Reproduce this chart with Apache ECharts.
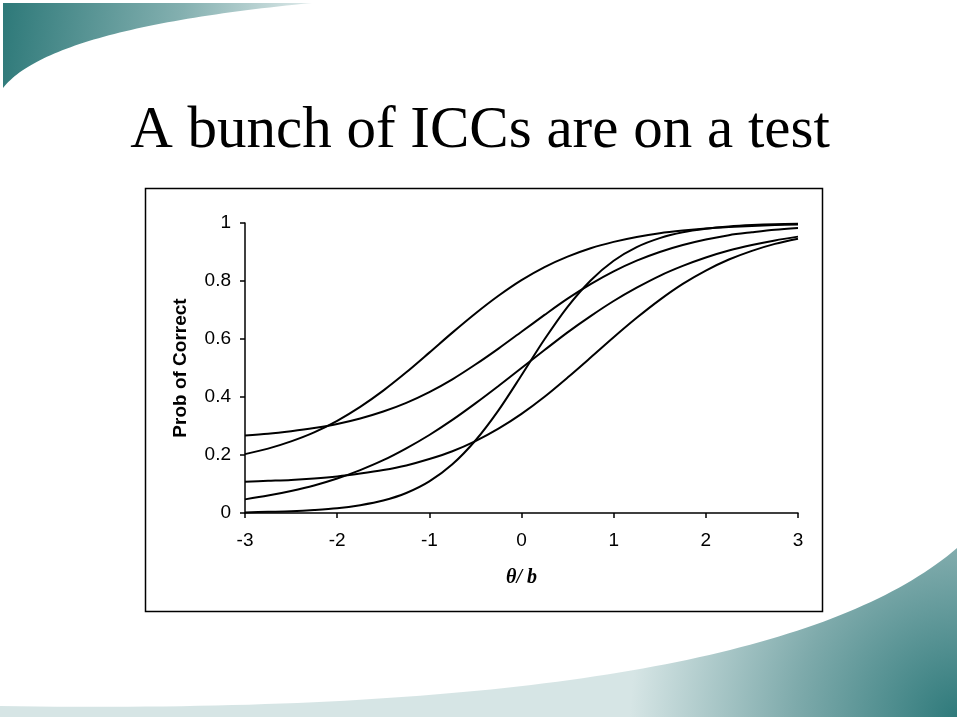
<!DOCTYPE html>
<html>
<head>
<meta charset="utf-8">
<script src="https://cdn.jsdelivr.net/npm/echarts@6/dist/echarts.min.js"></script>
<style>
  html, body { margin: 0; padding: 0; background: #ffffff; }
  #chart { width: 960px; height: 720px; }
</style>
</head>
<body>
<div id="chart"></div>
<script>
// ---- Data ----
const titleText = 'A bunch of ICCs are on a test';
const xAxisName = 'θ/ b';
const yAxisName = 'Prob of Correct';

const thetaValues = [-3, -2.75, -2.5, -2.25, -2, -1.75, -1.5, -1.25, -1, -0.75, -0.5, -0.25, 0,
                     0.25, 0.5, 0.75, 1, 1.25, 1.5, 1.75, 2, 2.25, 2.5, 2.75, 3];

// item with high guessing (starts ~0.27)
const iccA = [0.267, 0.273, 0.282, 0.293, 0.307, 0.326, 0.350, 0.380, 0.417, 0.461, 0.512, 0.567, 0.625,
              0.683, 0.739, 0.789, 0.833, 0.870, 0.900, 0.924, 0.943, 0.958, 0.968, 0.977, 0.983];
// easy item (starts ~0.20, top curve)
const iccB = [0.203, 0.222, 0.247, 0.278, 0.318, 0.366, 0.422, 0.485, 0.553, 0.622, 0.688, 0.749, 0.803,
              0.848, 0.884, 0.913, 0.935, 0.952, 0.965, 0.974, 0.981, 0.986, 0.990, 0.993, 0.995];
// hard item with guessing (starts ~0.11)
const iccC = [0.108, 0.111, 0.114, 0.119, 0.126, 0.136, 0.148, 0.164, 0.186, 0.213, 0.248, 0.291, 0.342,
              0.401, 0.467, 0.536, 0.606, 0.673, 0.735, 0.790, 0.836, 0.874, 0.904, 0.928, 0.946];
// flat item (starts ~0.05)
const iccD = [0.047, 0.060, 0.076, 0.095, 0.119, 0.148, 0.182, 0.223, 0.269, 0.321, 0.378, 0.438, 0.500,
              0.562, 0.623, 0.679, 0.731, 0.777, 0.818, 0.852, 0.881, 0.905, 0.924, 0.940, 0.953];
// steep item (starts ~0)
const iccE = [0.002, 0.004, 0.006, 0.010, 0.016, 0.027, 0.043, 0.069, 0.109, 0.168, 0.250, 0.354, 0.475,
              0.599, 0.711, 0.802, 0.870, 0.917, 0.948, 0.968, 0.980, 0.988, 0.993, 0.996, 0.997];

const allCurves = [iccA, iccB, iccC, iccD, iccE];

// ---- Decorative slide swooshes (not data) ----
function quadPoints(p0, c, p2, n) {
  const pts = [];
  for (let i = 0; i <= n; i++) {
    const t = i / n, u = 1 - t;
    pts.push([u * u * p0[0] + 2 * u * t * c[0] + t * t * p2[0],
              u * u * p0[1] + 2 * u * t * c[1] + t * t * p2[1]]);
  }
  return pts;
}
const topLeftShape = [[3, 3]].concat(quadPoints([312, 3], [50, 28], [3, 88], 60));
const bottomRightShape = [[0, 717], [957, 717]].concat(quadPoints([957, 548], [760, 718], [0, 706], 80));

const chart = echarts.init(document.getElementById('chart'), null, { renderer: 'canvas' });

const option = {
  backgroundColor: '#ffffff',
  animation: false,
  title: {
    text: titleText,
    left: 'center',
    top: 97,
    textStyle: {
      fontFamily: 'Liberation Serif, Times New Roman, serif',
      fontSize: 59,
      fontWeight: 'normal',
      color: '#000000'
    }
  },
  graphic: [
    {
      type: 'polygon', z: -10, silent: true,
      shape: { points: topLeftShape },
      style: {
        fill: { type: 'linear', x: 0, y: 0, x2: 330, y2: 40, global: true,
                colorStops: [{ offset: 0, color: '#2c7878' }, { offset: 0.55, color: '#84b0b0' }, { offset: 1, color: '#eef4f4' }] }
      }
    },
    {
      type: 'polygon', z: -10, silent: true,
      shape: { points: bottomRightShape },
      style: {
        fill: { type: 'radial', x: 960, y: 720, r: 330, global: true,
                colorStops: [{ offset: 0, color: '#2d797a' }, { offset: 0.5, color: '#7eaaab' }, { offset: 1, color: '#d6e5e5' }] }
      }
    },
    {
      type: 'rect', z: -5, silent: true,
      shape: { x: 145.5, y: 188.5, width: 677, height: 423 },
      style: { fill: '#ffffff', stroke: '#000000', lineWidth: 1.5 }
    }
  ],
  grid: {
    left: 245,
    right: 162,
    top: 223,
    bottom: 207,
    containLabel: false
  },
  xAxis: {
    type: 'value',
    min: -3,
    max: 3,
    interval: 1,
    name: xAxisName,
    nameLocation: 'middle',
    nameGap: 55,
    nameTextStyle: {
      fontFamily: 'Liberation Serif, serif',
      fontStyle: 'italic',
      fontWeight: 'bold',
      fontSize: 20,
      color: '#000000'
    },
    axisLine: { show: true, onZero: false, lineStyle: { color: '#000000', width: 1.5 } },
    axisTick: { show: true, inside: false, length: 5, lineStyle: { color: '#000000', width: 1.5 } },
    axisLabel: { margin: 18, fontFamily: 'Liberation Sans, Arial, sans-serif', fontSize: 19, color: '#000000' },
    splitLine: { show: false }
  },
  yAxis: {
    type: 'value',
    min: 0,
    max: 1,
    interval: 0.2,
    name: yAxisName,
    nameLocation: 'middle',
    nameGap: 55,
    nameRotate: 90,
    nameTextStyle: {
      fontFamily: 'Liberation Sans, Arial, sans-serif',
      fontWeight: 'bold',
      fontSize: 19,
      color: '#000000'
    },
    axisLine: { show: true, onZero: false, lineStyle: { color: '#000000', width: 1.5 } },
    axisTick: { show: true, inside: false, length: 5, lineStyle: { color: '#000000', width: 1.5 } },
    axisLabel: { margin: 14, fontFamily: 'Liberation Sans, Arial, sans-serif', fontSize: 19, color: '#000000' },
    splitLine: { show: false }
  },
  series: allCurves.map(function (curve, i) {
    return {
      type: 'line',
      name: 'Item ' + (i + 1),
      data: thetaValues.map(function (t, j) { return [t, curve[j]]; }),
      showSymbol: false,
      symbol: 'none',
      smooth: 0.3,
      lineStyle: { color: '#000000', width: 2 },
      z: 3
    };
  })
};

chart.setOption(option);
</script>
</body>
</html>
